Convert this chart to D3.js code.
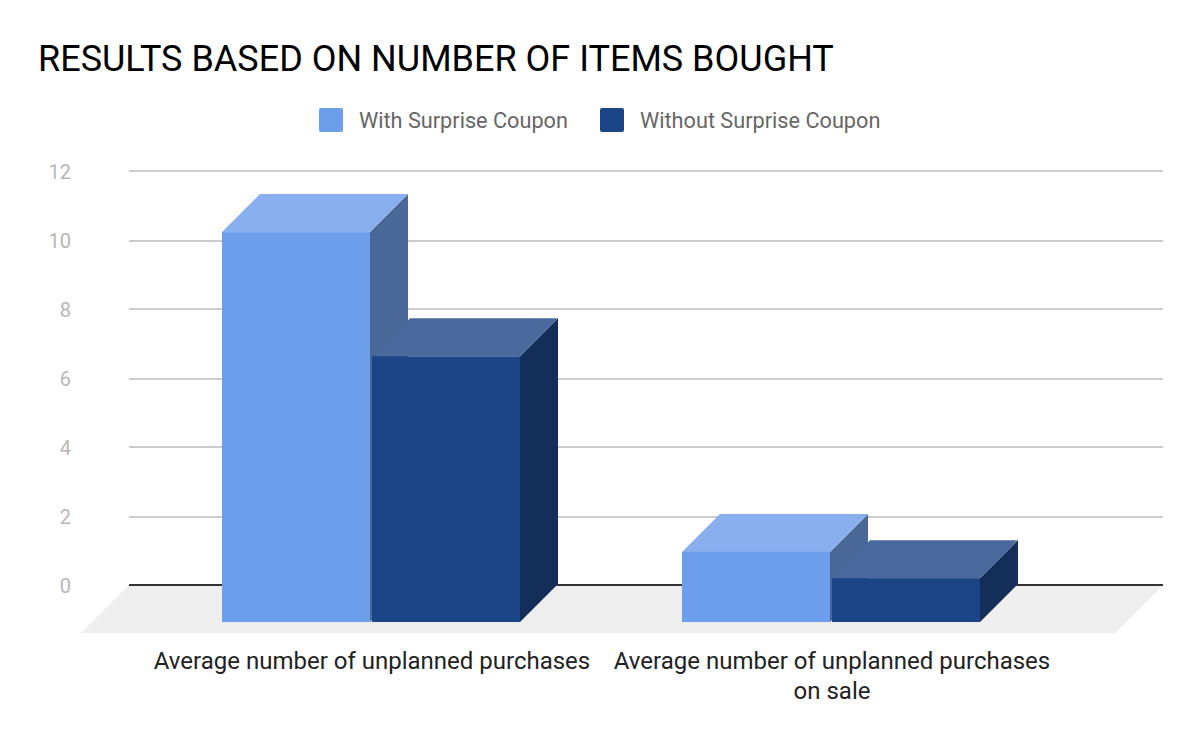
<!DOCTYPE html>
<html>
<head>
<meta charset="utf-8">
<script src="https://cdn.jsdelivr.net/npm/d3@7.9.0/dist/d3.min.js"></script>
<style>
  html, body { margin: 0; padding: 0; background: #fff; }
  svg { display: block; font-family: Roboto, sans-serif; }
</style>
</head>
<body>
<svg width="1200" height="742"></svg>
<script>
const categories = ['Average number of unplanned purchases', 'Average number of unplanned purchases on sale'];
const seriesNames = ['With Surprise Coupon', 'Without Surprise Coupon'];
const withCoupon = [11.33, 2.06];
const withoutCoupon = [7.73, 1.3];
const yTicks = [0, 2, 4, 6, 8, 10, 12];

// front, top and side face colours per series
const frontColors = ['#6d9eeb', '#1c4587'];
const topColors = ['#8aafee', '#49699d'];
const sideColors = ['#496898', '#132e59'];

const svg = d3.select('svg');
const depthX = 38;
const depthY = 38;

const y = d3.scaleLinear().domain([0, 12]).range([585, 171]);
const x0 = d3.scaleBand().domain(categories).range([141, 1061]).paddingInner(162 / 460).paddingOuter(81 / 460);
const x1 = d3.scaleBand().domain(seriesNames).range([0, x0.bandwidth()]).paddingInner(2 / 150);

// grid lines sit on odd pixels only
const snap = v => {
  const r = Math.round(v);
  return r % 2 ? r : r + 1;
};

// title
svg.append('text')
  .attr('x', 38)
  .attr('y', 71)
  .attr('font-size', 36)
  .attr('fill', '#000')
  .text('RESULTS BASED ON NUMBER OF ITEMS BOUGHT');

// legend
const legendSwatchX = [319, 600];
seriesNames.forEach((name, i) => {
  svg.append('rect')
    .attr('x', legendSwatchX[i])
    .attr('y', 108)
    .attr('width', 24)
    .attr('height', 24)
    .attr('rx', 2)
    .attr('fill', frontColors[i]);
  svg.append('text')
    .attr('x', legendSwatchX[i] + 40)
    .attr('y', 128)
    .attr('font-size', 21.7)
    .attr('fill', '#666')
    .text(name);
});

// floor
svg.append('polygon')
  .attr('points', [[129, y(0)], [1163, y(0)], [1115, y(0) + 48], [81, y(0) + 48]].join(' '))
  .attr('fill', '#eee');

// y axis and grid
const yAxis = d3.axisLeft(y).tickValues(yTicks).tickSize(0).tickPadding(0);
const yG = svg.append('g').attr('transform', 'translate(71,1)').call(yAxis);
yG.select('.domain').remove();
yG.selectAll('text')
  .attr('font-family', 'Roboto, sans-serif')
  .attr('font-size', 20)
  .attr('fill', '#b7b7b7');

svg.append('g').selectAll('line')
  .data(yTicks)
  .join('line')
  .attr('x1', 129)
  .attr('x2', 1163)
  .attr('y1', d => snap(y(d)))
  .attr('y2', d => snap(y(d)))
  .attr('stroke', d => d === 0 ? '#333' : '#ccc')
  .attr('stroke-width', 2);

// 3d bars
const rows = categories.flatMap((c, i) => [
  { category: c, series: seriesNames[0], value: withCoupon[i], s: 0 },
  { category: c, series: seriesNames[1], value: withoutCoupon[i], s: 1 }
]);

const bars = svg.append('g').selectAll('g')
  .data(rows)
  .join('g');

const barLeft = d => x0(d.category) + x1(d.series);
const barRight = d => barLeft(d) + x1.bandwidth();
const frontTop = d => y(d.value) + depthY;
const frontBase = y(0) + 37;

bars.append('polygon')
  .attr('fill', d => sideColors[d.s])
  .attr('points', d => [
    [barRight(d), frontTop(d)],
    [barRight(d) + depthX, frontTop(d) - depthY],
    [barRight(d) + depthX, frontBase - depthY],
    [barRight(d), frontBase]
  ].join(' '));

bars.append('polygon')
  .attr('fill', d => topColors[d.s])
  .attr('points', d => [
    [barLeft(d), frontTop(d)],
    [barLeft(d) + depthX, frontTop(d) - depthY],
    [barRight(d) + depthX, frontTop(d) - depthY],
    [barRight(d), frontTop(d)]
  ].join(' '));

bars.append('rect')
  .attr('fill', d => frontColors[d.s])
  .attr('x', barLeft)
  .attr('y', frontTop)
  .attr('width', x1.bandwidth())
  .attr('height', d => frontBase - frontTop(d));

// category labels, wrapped to the band step
const maxLabelWidth = 445;
categories.forEach(c => {
  const label = svg.append('text')
    .attr('text-anchor', 'middle')
    .attr('font-size', 24)
    .attr('fill', '#222');
  const cx = x0(c) + x0.bandwidth() / 2 + 1;
  let line = [];
  let lineNo = 0;
  let tspan = label.append('tspan').attr('x', cx).attr('y', 669);
  c.split(' ').forEach(word => {
    line.push(word);
    tspan.text(line.join(' '));
    if (tspan.node().getComputedTextLength() > maxLabelWidth) {
      line.pop();
      tspan.text(line.join(' '));
      line = [word];
      lineNo += 1;
      tspan = label.append('tspan').attr('x', cx).attr('y', 669 + lineNo * 30).text(word);
    }
  });
});
</script>
</body>
</html>
